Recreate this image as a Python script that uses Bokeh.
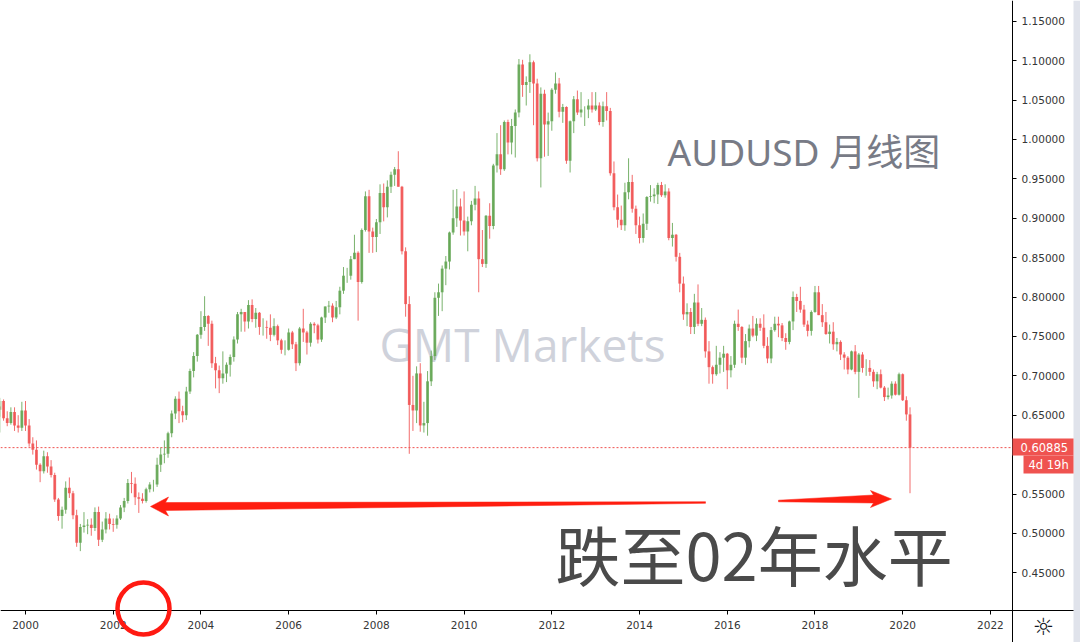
import pandas as pd
from bokeh.plotting import figure
from bokeh.models import (Range1d, FixedTicker, PrintfTickFormatter, LinearAxis,
                          BoxAnnotation, ColumnDataSource)
from bokeh.core.properties import value
from bokeh.embed import file_html
from bokeh.resources import INLINE

# ---------------- data (AUDUSD monthly) ----------------
start_month = "1999-04-01"
opens = [
    .628, .661, .657, .668, .646, .640, .654, .637, .634,                      # 1999 Apr-Dec
    .656, .637, .614, .606, .587, .579, .598, .585, .574, .543, .522, .530,    # 2000
    .558, .551, .523, .488, .508, .510, .511, .507, .527, .492, .505, .519,    # 2001
    .512, .511, .519, .533, .541, .564, .563, .546, .544, .541, .556, .562,    # 2002
    .562, .587, .600, .601, .627, .652, .671, .655, .650, .680, .706, .725,    # 2003
    .752, .762, .776, .766, .716, .707, .697, .703, .714, .724, .746, .778,    # 2004
    .781, .769, .790, .772, .780, .762, .762, .761, .752, .763, .745, .733,    # 2005
    .733, .755, .740, .716, .760, .755, .742, .766, .764, .746, .774, .788,    # 2006
    .789, .774, .787, .808, .827, .827, .848, .856, .819, .885, .928, .883,    # 2007
    .876, .895, .932, .914, .940, .955, .962, .940, .858, .791, .663, .656,    # 2008
    .703, .637, .640, .693, .725, .799, .806, .836, .845, .882, .900, .915,    # 2009
    .897, .883, .896, .917, .925, .848, .842, .903, .890, .967, .981, .962,    # 2010
    1.022, .996, 1.017, 1.034, 1.095, 1.069, 1.073, 1.098, 1.071, .976, 1.058, 1.019,  # 2011
    1.023, 1.063, 1.071, 1.035, 1.041, .973, 1.023, 1.051, 1.034, 1.038, 1.038, 1.043,  # 2012
    1.038, 1.043, 1.022, 1.042, 1.036, .957, .914, .898, .891, .933, .946, .912,  # 2013
    .891, .875, .893, .927, .928, .930, .942, .929, .934, .875, .879, .851,    # 2014
    .817, .778, .781, .762, .793, .766, .771, .731, .711, .702, .714, .723,    # 2015
    .728, .707, .714, .766, .762, .723, .744, .760, .751, .766, .761, .738,    # 2016
    .722, .758, .766, .764, .748, .743, .769, .800, .795, .784, .765, .757,    # 2017
    .781, .806, .777, .768, .753, .756, .740, .743, .727, .723, .708, .731,    # 2018
    .705, .727, .710, .710, .705, .693, .702, .685, .673, .675, .690, .676,    # 2019
    .702, .669, .651,                                                          # 2020 Jan-Mar
]
highs = [
    .664, .672, .672, .670, .655, .660, .660, .650, .667,
    .668, .645, .622, .618, .589, .605, .603, .593, .577, .545, .534, .566,
    .571, .554, .530, .512, .527, .518, .519, .533, .534, .515, .527, .525,
    .519, .523, .536, .545, .569, .578, .571, .552, .551, .558, .565, .568,
    .596, .609, .618, .629, .656, .674, .680, .662, .686, .709, .730, .753,
    .782, .801, .777, .770, .724, .713, .731, .717, .727, .750, .781, .785,
    .781, .796, .797, .786, .781, .773, .770, .778, .773, .765, .747, .745,
    .760, .757, .743, .762, .785, .757, .768, .768, .766, .775, .788, .795,
    .792, .795, .813, .838, .837, .852, .879, .858, .887, .934, .936, .888,
    .899, .943, .944, .948, .959, .965, .985, .941, .863, .801, .700, .712,
    .716, .667, .706, .732, .806, .817, .840, .852, .883, .936, .937, .925,
    .934, .902, .922, .941, .934, .885, .904, .919, .969, 1.008, 1.018, 1.024,
    1.025, 1.026, 1.038, 1.102, 1.101, 1.080, 1.108, 1.100, 1.077, 1.066, 1.063, 1.034,
    1.065, 1.085, 1.078, 1.045, 1.042, 1.024, 1.055, 1.062, 1.060, 1.042, 1.051, 1.060,
    1.060, 1.047, 1.048, 1.060, 1.040, .972, .930, .916, .945, .976, .955, .916,
    .902, .906, .928, .942, .938, .945, .946, .943, .938, .894, .880, .856,
    .826, .792, .786, .804, .816, .786, .774, .744, .713, .738, .730, .738,
    .729, .725, .770, .784, .763, .753, .765, .776, .773, .773, .778, .749,
    .762, .775, .775, .767, .754, .770, .807, .804, .813, .790, .770, .783,
    .814, .814, .791, .781, .765, .768, .748, .745, .730, .725, .732, .739,
    .729, .730, .721, .720, .708, .705, .708, .687, .685, .693, .693, .704,
    .703, .674, .660,
]
lows = [
    .627, .637, .648, .643, .636, .638, .630, .628, .630,
    .630, .610, .600, .581, .565, .576, .577, .571, .540, .516, .506, .525,
    .545, .518, .483, .4775, .501, .499, .497, .503, .484, .489, .500, .505,
    .502, .506, .517, .527, .538, .551, .536, .526, .538, .539, .552, .553,
    .559, .578, .589, .596, .622, .645, .640, .641, .644, .677, .698, .718,
    .747, .757, .738, .710, .684, .678, .690, .692, .699, .718, .741, .756,
    .756, .760, .768, .761, .752, .751, .747, .744, .750, .739, .728, .726,
    .732, .734, .706, .713, .743, .727, .737, .754, .741, .743, .767, .780,
    .768, .772, .778, .804, .818, .822, .848, .770, .817, .883, .856, .856,
    .857, .880, .896, .901, .932, .941, .940, .854, .775, .601, .630, .640,
    .629, .628, .624, .687, .720, .776, .782, .815, .835, .879, .889, .878,
    .878, .858, .891, .910, .806, .838, .837, .874, .886, .958, .955, .960,
    .981, .981, .977, 1.028, 1.054, 1.043, 1.059, 1.018, .972, .939, .978, .979,
    1.011, 1.058, 1.028, 1.021, .969, .958, 1.008, 1.031, 1.028, 1.017, 1.027, 1.034,
    1.036, 1.018, 1.016, 1.024, .954, .910, .888, .885, .884, .924, .907, .880,
    .868, .869, .885, .921, .919, .918, .927, .926, .872, .864, .845, .806,
    .771, .763, .753, .753, .763, .763, .723, .690, .690, .700, .703, .705,
    .683, .698, .710, .757, .716, .714, .736, .749, .744, .757, .735, .716,
    .716, .756, .749, .744, .733, .740, .758, .781, .780, .762, .750, .751,
    .780, .777, .762, .752, .741, .733, .731, .720, .708, .702, .707, .702,
    .672, .704, .700, .700, .686, .683, .684, .668, .670, .671, .675, .675,
    .668, .643, .551,
]
closes = [
    .661, .657, .668, .646, .640, .654, .637, .634, .656,
    .637, .614, .606, .587, .579, .598, .585, .574, .543, .522, .530, .558,
    .551, .523, .488, .508, .510, .511, .507, .527, .492, .505, .519, .512,
    .511, .519, .533, .541, .564, .563, .546, .544, .541, .556, .562, .562,
    .587, .600, .601, .627, .652, .671, .655, .650, .680, .706, .725, .752,
    .762, .776, .766, .716, .707, .697, .703, .714, .724, .746, .778, .781,
    .769, .790, .772, .780, .762, .762, .761, .752, .763, .745, .733, .733,
    .755, .740, .716, .760, .755, .742, .766, .764, .746, .774, .788, .789,
    .774, .787, .808, .827, .827, .848, .856, .819, .885, .928, .883, .876,
    .895, .932, .914, .940, .955, .962, .940, .858, .791, .663, .656, .703,
    .637, .640, .693, .725, .799, .806, .836, .845, .882, .900, .915, .897,
    .883, .896, .917, .925, .848, .842, .903, .890, .967, .981, .962, 1.022,
    .996, 1.017, 1.034, 1.095, 1.069, 1.073, 1.098, 1.071, .976, 1.058, 1.019, 1.023,
    1.063, 1.071, 1.035, 1.041, .973, 1.023, 1.051, 1.034, 1.038, 1.038, 1.043, 1.038,
    1.043, 1.022, 1.042, 1.036, .957, .914, .898, .891, .933, .946, .912, .891,
    .875, .893, .927, .928, .930, .942, .929, .934, .875, .879, .851, .817,
    .778, .781, .762, .793, .766, .771, .731, .711, .702, .714, .723, .728,
    .707, .714, .766, .762, .723, .744, .760, .751, .766, .761, .738, .722,
    .758, .766, .764, .748, .743, .769, .800, .795, .784, .765, .757, .781,
    .806, .777, .768, .753, .756, .740, .743, .727, .723, .708, .731, .705,
    .727, .710, .710, .705, .693, .702, .685, .673, .675, .690, .676, .702,
    .669, .651, .60885,
]
year_ticks = [2000, 2002, 2004, 2006, 2008, 2010, 2012, 2014, 2016, 2018, 2020, 2022]
price_ticks = [0.45, 0.50, 0.55, 0.65, 0.70, 0.75, 0.80, 0.85, 0.90, 0.95, 1.00, 1.05, 1.10, 1.15]
last_price = 0.60885
last_price_text = "0.60885"
countdown = "4d 19h"
title_text = "AUDUSD 月线图"
watermark = "GMT Markets"
note_text = "跌至02年水平"

# ---------------- layout helpers (pixel -> data) ----------------
W, H = 1080, 642
X_PX_2000, PX_PER_YEAR = 25.0, 43.86
Y_PX_045, PX_PER_UNIT = 572.3, 788.0
AXIS_X_PX, AXIS_Y_PX = 1012, 610
def X(px):
    return 2000 + (px - X_PX_2000) / PX_PER_YEAR
def Y(py):
    return 0.45 + (Y_PX_045 - py) / PX_PER_UNIT

dates = pd.date_range(start_month, periods=len(closes), freq="MS")
t = list(dates.year + (dates.month - 1) / 12.0)

UP, DOWN = "#62a552", "#f05252"
colors = [UP if c >= o else DOWN for o, c in zip(opens, closes)]
src = ColumnDataSource(dict(
    t=t, open=opens, high=highs, low=lows, close=closes,
    top=[max(o, c) for o, c in zip(opens, closes)],
    bottom=[min(o, c) for o, c in zip(opens, closes)],
    color=colors,
))

p = figure(width=W, height=H, output_backend="svg", toolbar_location=None,
           x_range=Range1d(X(0), X(W)), y_range=Range1d(Y(H), Y(0)),
           x_axis_location=None, y_axis_location=None, min_border=0)
p.outline_line_color = None
p.grid.visible = False
p.background_fill_color = "white"
p.border_fill_color = "white"

AXIS_FONT = "DejaVu Sans"
xaxis = LinearAxis(fixed_location=Y(AXIS_Y_PX), ticker=FixedTicker(ticks=year_ticks),
                   major_label_overrides={y: str(y) for y in year_ticks})
yaxis = LinearAxis(fixed_location=X(AXIS_X_PX), ticker=FixedTicker(ticks=price_ticks),
                   formatter=PrintfTickFormatter(format="%.5f"))
for ax in (xaxis, yaxis):
    ax.axis_line_color = "#000000"
    ax.axis_line_width = 1
    ax.major_tick_line_color = "#000000"
    ax.major_tick_in = 0
    ax.major_tick_out = 4
    ax.minor_tick_line_color = None
    ax.major_label_text_font = AXIS_FONT
    ax.major_label_text_font_size = "10.5px"
    ax.major_label_text_color = "#363636"
xaxis.major_label_standoff = 6
yaxis.major_label_standoff = 5
p.add_layout(xaxis, "below")
p.add_layout(yaxis, "right")

# side strip of the app
p.add_layout(BoxAnnotation(left=X(1073), right=X(W), bottom=Y(H), top=Y(0),
                           fill_color="#e0e3eb", fill_alpha=1.0, line_color=None))

# watermark & title behind candles
p.text(x=[X(522)], y=[Y(343)], text=[watermark], text_font=value("Open Sans"),
       text_font_size="46px", text_color="#cfd2db", text_align="center", text_baseline="middle")
p.text(x=[X(667)], y=[Y(151)], text=[title_text], text_font=value("Noto Sans, Noto Sans CJK SC"),
       text_font_size="37px", text_color="#787b86", text_align="left", text_baseline="middle")

# last price dotted line across the chart area
p.segment(x0=[X(0)], y0=[last_price], x1=[X(AXIS_X_PX)], y1=[last_price],
          line_color="#ef5350", line_dash="2 2", line_width=1)

# candles
p.segment(x0="t", y0="low", x1="t", y1="high", color="color", line_width=1, alpha=0.85, source=src)
p.vbar(x="t", width=2.8 / PX_PER_YEAR, top="top", bottom="bottom", fill_color="color",
       line_color=None, fill_alpha=0.88, source=src)

# arrows (annotation shapes, in pixels)
left_arrow = [(150, 506), (168, 496.5), (165, 502), (705, 501.2), (705, 502.8),
              (165, 510), (168, 515.5)]
right_arrow = [(778, 499.7), (873, 494.5), (870, 490), (891, 498.5), (870, 507),
               (873, 502.5), (778, 501.3)]
p.patches(xs=[[X(a) for a, b in left_arrow], [X(a) for a, b in right_arrow]],
          ys=[[Y(b) for a, b in left_arrow], [Y(b) for a, b in right_arrow]],
          fill_color="#ff1e10", line_color="#ff1e10", line_width=0.5)

p.text(x=[X(555)], y=[Y(552)], text=[note_text], text_font=value("Noto Sans CJK SC"),
       text_font_size="65px", text_color="#4a4a4a", text_align="left", text_baseline="middle")

# price tag boxes on the price axis
tag_box = p.quad(left=[X(AXIS_X_PX), X(1023)], right=[X(1073), X(1073)],
                 top=[Y(438), Y(455)], bottom=[Y(455), Y(473)],
                 fill_color="#ef5350", line_color=None)
tag_box.level = "overlay"
tag_txt = p.text(x=[X(1020), X(1028)], y=[last_price, Y(464)], text=[last_price_text, countdown],
                 text_font=value(AXIS_FONT), text_font_size="11.5px",
                 text_color="white", text_align="left", text_baseline="middle")
tag_txt.level = "overlay"

# settings icon
p.text(x=[X(1043)], y=[Y(626)], text=["☼"], text_font=value(AXIS_FONT),
       text_font_size="24px", text_color="#131722", text_align="center", text_baseline="middle")

# red circle around 2002-2003
ring = p.scatter(x=[X(143)], y=[Y(608)], size=52, marker="circle", fill_color=None,
                 line_color="#ff1a12", line_width=4.5)
ring.level = "overlay"

open("out.html", "w").write(file_html(p, INLINE))
